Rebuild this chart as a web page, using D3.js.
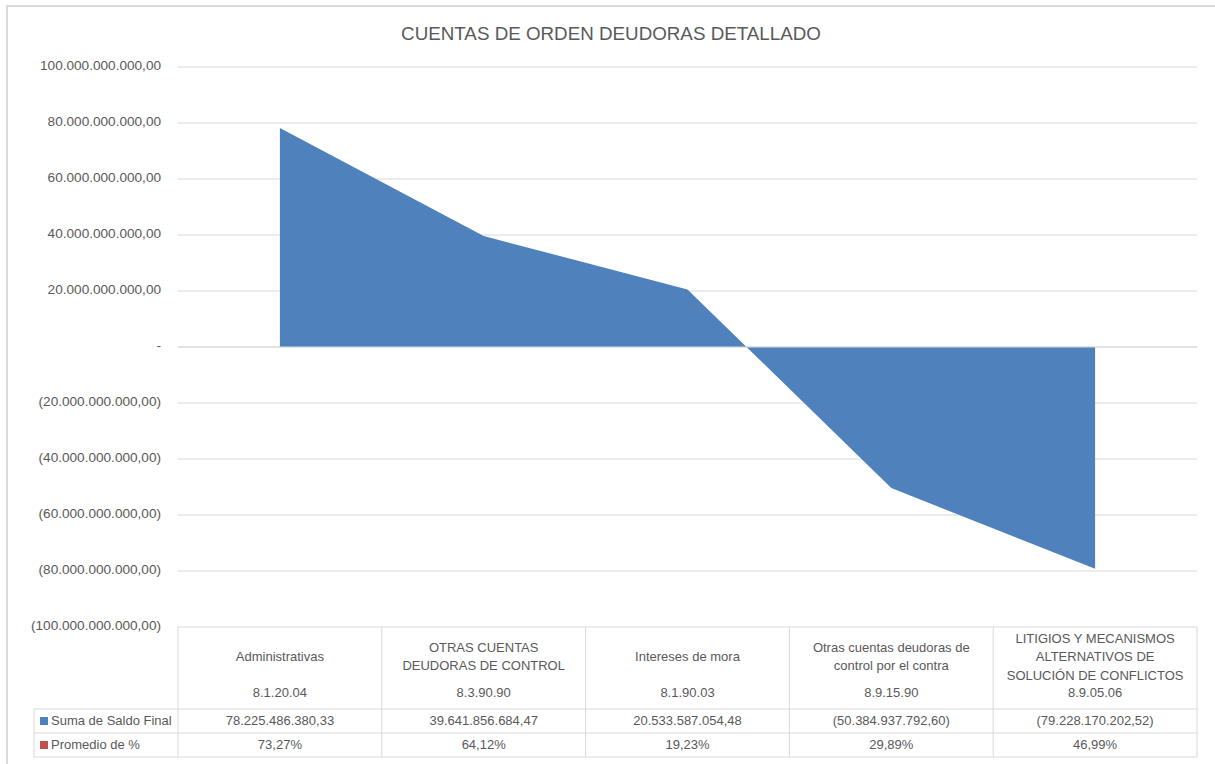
<!DOCTYPE html>
<html lang="es">
<head>
<meta charset="UTF-8">
<title>Cuentas de orden deudoras detallado</title>
<script src="https://d3js.org/d3.v7.min.js"></script>
<style>
  body { margin: 0; background: #fff; }
  text { font-family: "Liberation Sans", Arial, sans-serif; fill: #595959; }
  .tick text { font-size: 13.6px; }
  .cell { font-size: 13px; text-anchor: middle; }
</style>
</head>
<body>
<svg id="chart" width="1215" height="764"></svg>
<script>
  // datos del gráfico
  const codigos = ["8.1.20.04", "8.3.90.90", "8.1.90.03", "8.9.15.90", "8.9.05.06"];
  const nombres = [
    ["Administrativas"],
    ["OTRAS CUENTAS", "DEUDORAS DE CONTROL"],
    ["Intereses de mora"],
    ["Otras cuentas deudoras de", "control por el contra"],
    ["LITIGIOS Y MECANISMOS", "ALTERNATIVOS DE", "SOLUCIÓN DE CONFLICTOS"]
  ];
  const saldoFinal = [78225486380.33, 39641856684.47, 20533587054.48, -50384937792.60, -79228170202.52];
  const promedio = [73.27, 64.12, 19.23, 29.89, 46.99];
  const yTicks = [-100e9, -80e9, -60e9, -40e9, -20e9, 0, 20e9, 40e9, 60e9, 80e9, 100e9];

  const svg = d3.select("#chart");
  const mLeft = 178, mRight = 1197, mTop = 67, mBottom = 627;

  // marco exterior
  svg.append("path")
    .attr("d", "M7,764 L7,6 L1215,6")
    .attr("fill", "none").attr("stroke", "#d9d9d9").attr("stroke-width", 2);

  svg.append("text")
    .attr("x", 611).attr("y", 40)
    .attr("text-anchor", "middle")
    .style("font-size", "18.8px")
    .text("CUENTAS DE ORDEN DEUDORAS DETALLADO");

  const x = d3.scaleBand().domain(codigos).range([mLeft, mRight]);
  const y = d3.scaleLinear().domain([-100e9, 100e9]).range([mBottom, mTop]);

  // formato es-CO: miles con punto, decimales con coma, negativos entre paréntesis
  const loc = d3.formatLocale({ decimal: ",", thousands: ".", grouping: [3], currency: ["", ""] });
  const f2 = loc.format(",.2f");
  const fmtNum = v => v === 0 ? "-" : (v < 0 ? "(" + f2(-v) + ")" : f2(v));

  // rejilla
  svg.append("g")
    .selectAll("line")
    .data(yTicks.filter(d => d !== -100e9))
    .join("line")
    .attr("x1", mLeft).attr("x2", mRight)
    .attr("y1", d => y(d)).attr("y2", d => y(d))
    .attr("stroke", "#d9d9d9");

  // área
  const area = d3.area()
    .x(d => x(d.c) + x.bandwidth() / 2)
    .y0(y(0))
    .y1(d => y(d.v));
  svg.append("path")
    .datum(codigos.map((c, i) => ({ c: c, v: saldoFinal[i] })))
    .attr("d", area)
    .attr("fill", "#4f81bd");

  // eje en cero por encima del área
  svg.append("line")
    .attr("x1", mLeft).attr("x2", mRight)
    .attr("y1", y(0)).attr("y2", y(0))
    .attr("stroke", "#d9d9d9");

  const yAxis = svg.append("g")
    .attr("transform", `translate(${mLeft - 14},0)`)
    .call(d3.axisLeft(y).tickValues(yTicks).tickSize(0).tickFormat(fmtNum));
  yAxis.select(".domain").remove();
  yAxis.selectAll("text").attr("dy", "0.2em");

  // tabla de datos
  const rowH = 24, headBottom = 709;
  const tbl = svg.append("g");
  const gridC = "#d9d9d9";
  // líneas horizontales
  tbl.append("line").attr("x1", mLeft).attr("x2", mRight).attr("y1", mBottom).attr("y2", mBottom).attr("stroke", gridC);
  [headBottom, headBottom + rowH, headBottom + 2 * rowH].forEach(yy => {
    tbl.append("line").attr("x1", 34).attr("x2", mRight).attr("y1", yy).attr("y2", yy).attr("stroke", gridC);
  });
  // líneas verticales
  codigos.concat(["__end"]).forEach((c, i) => {
    const xx = i < codigos.length ? x(c) : mRight;
    tbl.append("line").attr("x1", xx).attr("x2", xx).attr("y1", mBottom).attr("y2", headBottom + 2 * rowH).attr("stroke", gridC);
  });
  tbl.append("line").attr("x1", 34).attr("x2", 34).attr("y1", headBottom).attr("y2", headBottom + 2 * rowH).attr("stroke", gridC);

  codigos.forEach((c, i) => {
    const cx = x(c) + x.bandwidth() / 2;
    const lines = nombres[i];
    const lh = 18.5;
    const y0 = 661 - (lines.length - 1) * lh / 2;
    lines.forEach((t, j) => {
      tbl.append("text").attr("class", "cell").attr("x", cx).attr("y", y0 + j * lh).text(t);
    });
    tbl.append("text").attr("class", "cell").attr("x", cx).attr("y", 697).text(c);
    tbl.append("text").attr("class", "cell").attr("x", cx).attr("y", headBottom + 16).text(fmtNum(saldoFinal[i]));
    tbl.append("text").attr("class", "cell").attr("x", cx).attr("y", headBottom + rowH + 16)
      .text(loc.format(".2f")(promedio[i]) + "%");
  });

  // leyenda dentro de la tabla
  const series = [{ n: "Suma de Saldo Final", c: "#4f81bd" }, { n: "Promedio de %", c: "#c0504d" }];
  series.forEach((s, i) => {
    const yy = headBottom + i * rowH;
    tbl.append("rect").attr("x", 40).attr("y", yy + 8).attr("width", 8).attr("height", 8).attr("fill", s.c);
    tbl.append("text").attr("x", 51).attr("y", yy + 16).style("font-size", "13px").text(s.n);
  });
</script>
</body>
</html>
